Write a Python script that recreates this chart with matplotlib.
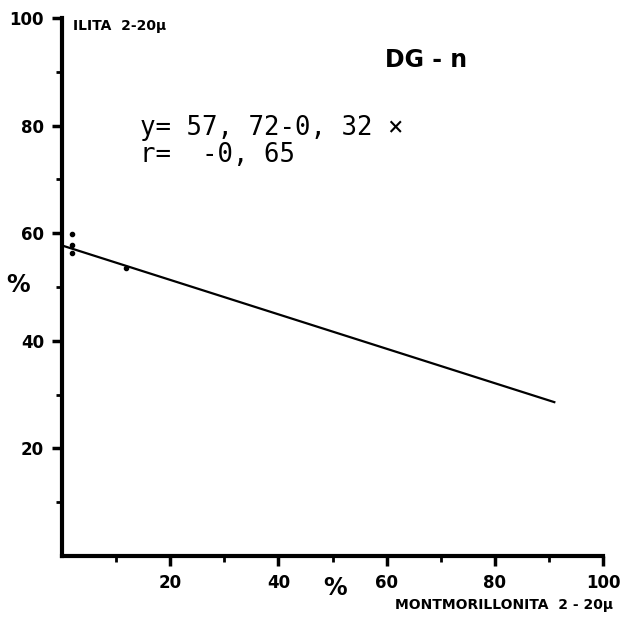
import matplotlib
matplotlib.use("Agg")
import matplotlib.pyplot as plt
import numpy as np

# Datos
mont = [1.8, 1.8, 1.8, 11.9]      # montmorillonita 2-20 µ (%)
ilita = [59.8, 57.8, 56.3, 53.5]  # ilita 2-20 µ (%)
a, b = 57.72, -0.32               # recta de regresión
x_fin = 91                        # fin de la recta
ticks_mayor = [20, 40, 60, 80, 100]
ticks_menor = [10, 30, 50, 70, 90]

fig = plt.figure(figsize=(6.24, 6.28), dpi=100)
ax = fig.add_axes([62 / 624, 72 / 628, 541 / 624, 538 / 628])

ax.scatter(mont, ilita, s=9, color="black", zorder=3)
xr = np.array([0, x_fin])
ax.plot(xr, a + b * xr, color="black", lw=1.6)

ax.set_xlim(0, 100)
ax.set_ylim(0, 100)
ax.spines[["top", "right"]].set_visible(False)
for s in ("left", "bottom"):
    ax.spines[s].set_linewidth(3)

ax.set_xticks(ticks_mayor)
ax.set_yticks(ticks_mayor)
ax.set_xticks(ticks_menor, minor=True)
ax.set_yticks(ticks_menor, minor=True)
ax.tick_params(which="major", length=7, width=2.5, labelsize=12, pad=6)
ax.tick_params(which="minor", length=4, width=2)
for lab in ax.get_xticklabels() + ax.get_yticklabels():
    lab.set_fontweight("heavy")

# Textos
ax.text(0.02, 0.985, "ILITA  2-20µ", transform=ax.transAxes, fontsize=10,
        fontweight="bold", va="center", ha="left")
fig.text(395 / 624, 1 - 605 / 628, "MONTMORILLONITA  2 - 20µ", fontsize=10,
         fontweight="bold", va="center", ha="left")
fig.text(18 / 624, 1 - 285 / 628, "%", fontsize=17, fontweight="heavy",
         va="center", ha="center")
fig.text(335 / 624, 1 - 588 / 628, "%", fontsize=17, fontweight="heavy",
         va="center", ha="center")
fig.text(385 / 624, 1 - 60 / 628, "DG - n", fontsize=17, fontweight="bold",
         va="center", ha="left")
fig.text(140 / 624, 1 - 128 / 628, "y= 57, 72-0, 32 ×", fontsize=18.5,
         family="DejaVu Sans Mono", va="center", ha="left")
fig.text(140 / 624, 1 - 155 / 628, "r=  -0, 65", fontsize=18.5,
         family="DejaVu Sans Mono", va="center", ha="left")

fig.savefig("out.png", dpi=100)
